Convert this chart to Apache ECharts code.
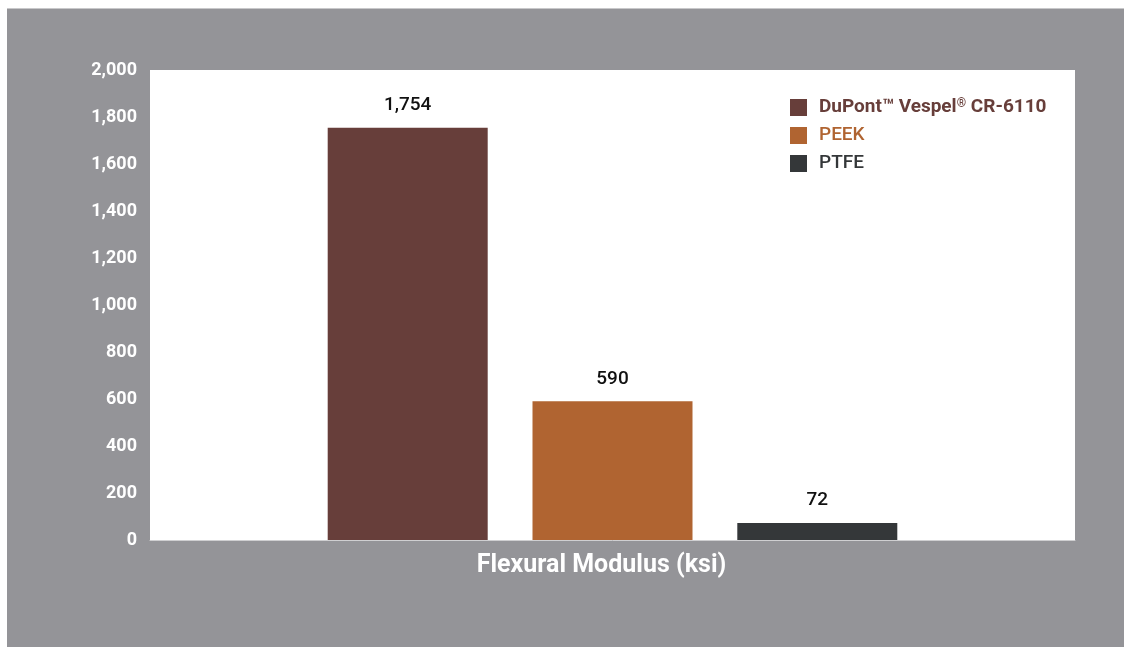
<!DOCTYPE html>
<html>
<head>
<meta charset="utf-8">
<script src="https://cdn.jsdelivr.net/npm/echarts@6/dist/echarts.min.js"></script>
<style>
  html, body { margin: 0; padding: 0; background: #fff; }
  #panel { position: absolute; left: 7px; top: 8px; width: 1117px; height: 639px; background: #949498; border-top: 1px solid #c8c8ca; box-sizing: border-box; }
  #chart { position: absolute; left: 0; top: 0; width: 1124px; height: 647px; }
</style>
</head>
<body>
<div id="panel"></div>
<div id="chart"></div>
<script>
const categories = ['Flexural Modulus (ksi)'];
const seriesNames = ['DuPont™ Vespel® CR-6110', 'PEEK', 'PTFE'];
const seriesValues = [[1754], [590], [72]];
const seriesColors = ['#673e3a', '#b06431', '#343739'];
const yTicks = { min: 0, max: 2000, interval: 200 };

const chart = echarts.init(document.getElementById('chart'));

chart.setOption({
  animation: false,
  textStyle: { fontFamily: 'Roboto' },
  grid: {
    left: 150,
    right: 49,
    top: 70,
    bottom: 107,
    show: true,
    backgroundColor: '#ffffff',
    borderWidth: 0,
  },
  legend: {
    orient: 'vertical',
    left: 785,
    top: 93,
    itemWidth: 17,
    itemHeight: 17,
    itemGap: 9,
    icon: 'rect',
    data: seriesNames.map((name, i) => ({
      name,
      textStyle: {
        color: seriesColors[i],
        fontSize: 19,
        fontWeight: i === 0 ? 'bold' : 500,
        fontFamily: 'Roboto',
        padding: [0, 0, 0, 7],
        rich: {
          a: { color: seriesColors[i], fontSize: 19, fontWeight: 'bold', fontFamily: 'Roboto' },
          s: { color: seriesColors[i], fontSize: 12, fontWeight: 'bold', fontFamily: 'Roboto', verticalAlign: 'top', padding: [0, 0, 7, 0] },
        },
      },
    })),
    formatter(name) {
      if (name === seriesNames[0]) {
        return '{a|DuPont™ Vespel}{s|®}{a| CR-6110}';
      }
      return name;
    },
  },
  xAxis: {
    type: 'category',
    data: categories,
    axisLine: { lineStyle: { color: '#cfcfd1', width: 1 } },
    axisTick: { show: false },
    axisLabel: {
      color: '#ffffff',
      fontSize: 25,
      fontWeight: 'bold',
      margin: 13,
      padding: [0, 22, 0, 0],
    },
  },
  yAxis: {
    type: 'value',
    min: yTicks.min,
    max: yTicks.max,
    interval: yTicks.interval,
    splitLine: { show: false },
    axisLine: { show: false },
    axisTick: { show: false },
    axisLabel: {
      color: '#ffffff',
      fontSize: 18,
      fontWeight: 'bold',
      margin: 13,
      formatter: (v) => v.toLocaleString('en-US'),
    },
  },
  series: seriesNames.map((name, i) => ({
    name,
    type: 'bar',
    data: seriesValues[i],
    barWidth: 160,
    barGap: '28%',
    itemStyle: { color: seriesColors[i] },
    label: {
      show: true,
      position: 'top',
      distance: 13,
      color: '#111111',
      fontSize: 19,
      fontWeight: 500,
      formatter: (p) => p.value.toLocaleString('en-US'),
    },
  })),
});
</script>
</body>
</html>
